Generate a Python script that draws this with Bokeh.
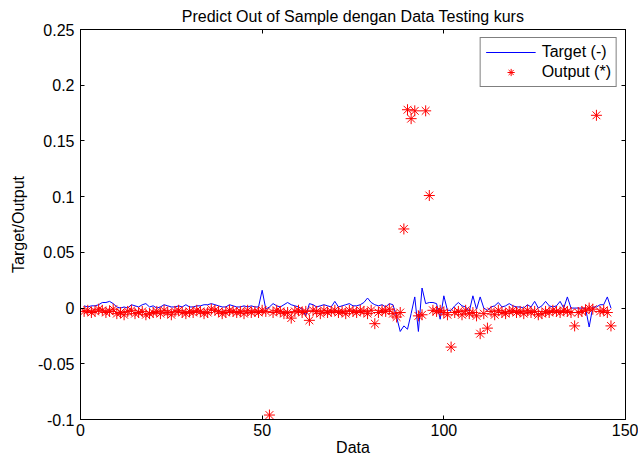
from bokeh.plotting import figure
from bokeh.models import Range1d, FixedTicker, LinearAxis, Legend, LegendItem, CustomLabelingPolicy
from bokeh.embed import file_html
from bokeh.resources import INLINE

target = [0.002, 0.001, 0.002, 0.002, 0.003, 0.005, 0.005, 0.006, 0.004, 0.001,
          0.000, 0.001, 0.000, 0.003, 0.002, 0.001, 0.003, 0.004, 0.001, 0.002,
          0.000, 0.001, 0.003, 0.002, 0.001, 0.001, 0.002, 0.001, 0.003, 0.001,
          0.001, 0.002, 0.002, 0.003, 0.003, 0.004, 0.003, 0.002, 0.001, 0.001,
          0.003, 0.002, 0.001, 0.001, 0.002, 0.001, 0.002, 0.001, 0.001, 0.016,
          -0.001, 0.001, 0.004, 0.002, 0.001, 0.003, 0.005, 0.003, 0.002, 0.001,
          -0.001, -0.007, 0.004, 0.003, 0.001, 0.002, 0.003, 0.002, 0.001, 0.006,
          0.001, 0.002, 0.003, 0.004, 0.002, 0.002, 0.003, 0.005, 0.009, 0.005,
          0.003, 0.002, 0.003, 0.001, 0.004, 0.003, -0.008, -0.021, -0.016, -0.019,
          -0.005, 0.010, -0.021, 0.018, 0.004, 0.005, 0.005, 0.004, -0.010, 0.011,
          -0.002, -0.002, 0.002, 0.005, 0.002, 0.001, -0.003, 0.011, -0.001, 0.010,
          0.000, -0.002, 0.001, 0.002, 0.005, 0.001, 0.002, 0.004, 0.002, 0.001,
          0.001, 0.000, 0.003, 0.001, 0.006, 0.000, 0.002, 0.006, 0.002, 0.001,
          0.002, 0.006, 0.000, 0.010, 0.000, 0.000, 0.000, 0.000, 0.000, -0.017,
          0.001, 0.001, 0.003, 0.003, 0.010, 0.000]

output = [-0.003, -0.002, -0.004, -0.003, -0.001, -0.002, -0.004, -0.003, -0.001, -0.005,
          -0.004, -0.006, -0.003, -0.002, -0.005, -0.004, -0.003, -0.006, -0.005, -0.004,
          -0.003, -0.005, -0.002, -0.004, -0.006, -0.003, -0.002, -0.004, -0.005, -0.003,
          -0.004, -0.002, -0.003, -0.005, -0.004, -0.001, -0.002, -0.003, -0.005, -0.004,
          -0.002, -0.003, -0.004, -0.003, -0.005, -0.002, -0.004, -0.003, -0.004, -0.002,
          -0.003, -0.096, -0.004, -0.002, -0.003, -0.005, -0.004, -0.009, -0.003, -0.002,
          -0.004, -0.003, -0.011, -0.002, -0.003, -0.005, -0.002, -0.004, -0.003, -0.002,
          -0.004, -0.003, -0.005, -0.002, -0.003, -0.004, -0.002, -0.003, -0.005, -0.002,
          -0.014, -0.004, -0.002, -0.003, -0.001, -0.005, -0.008, -0.004, 0.071, 0.178,
          0.170, 0.177, -0.007, -0.006, 0.177, 0.101, -0.002, -0.003, -0.002, -0.004,
          -0.006, -0.035, -0.004, -0.003, -0.006, -0.002, -0.005, -0.004, -0.007, -0.023,
          -0.005, -0.018, -0.003, -0.006, -0.002, -0.004, -0.005, -0.003, -0.002, -0.004,
          -0.003, -0.005, -0.002, -0.004, -0.003, -0.006, -0.005, -0.003, -0.004, -0.002,
          -0.003, -0.004, -0.002, -0.003, -0.004, -0.016, -0.004, -0.003, -0.002, 0.000,
          -0.001, 0.173, -0.003, -0.002, -0.004, -0.016]

xdata = list(range(1, len(target) + 1))

xticks = [0, 50, 100, 150]
yticks = [-0.1, -0.05, 0, 0.05, 0.1, 0.15, 0.2, 0.25]
ytick_labels = ["-0.1", "-0.05", "0", "0.05", "0.1", "0.15", "0.2", "0.25"]

FONT = "Liberation Sans"
FS = "16px"

p = figure(width=638, height=459, output_backend="svg", toolbar_location=None,
           x_range=Range1d(0, 150), y_range=Range1d(-0.1, 0.25),
           min_border_left=80, min_border_right=13, min_border_top=28, min_border_bottom=40,
           title="Predict Out of Sample dengan Data Testing kurs")
p.title.align = "center"
p.title.text_font = FONT
p.title.text_font_size = FS
p.title.text_font_style = "normal"
p.title.text_color = "black"
p.title.offset = 0

p.xgrid.visible = False
p.ygrid.visible = False
p.outline_line_color = "black"
p.outline_line_width = 1
p.background_fill_color = "white"
p.border_fill_color = "white"

def style_axis(ax, show_labels=True):
    ax.major_tick_in = 4
    ax.major_tick_out = 0
    ax.minor_tick_in = 0
    ax.minor_tick_out = 0
    ax.axis_line_color = "black"
    ax.major_tick_line_color = "black"
    ax.major_label_text_font = FONT
    ax.major_label_text_color = "black"
    ax.axis_label_text_font = FONT
    ax.axis_label_text_color = "black"
    ax.axis_label_text_font_style = "normal"
    ax.axis_label_text_font_size = FS
    if show_labels:
        ax.major_label_text_font_size = FS
    else:
        ax.major_label_text_font_size = "0px"
        ax.major_label_standoff = 0
        ax.major_label_policy = CustomLabelingPolicy(
            code="for (const i of Array.from(indices)) { indices.unset(i) }")

p.xaxis.ticker = FixedTicker(ticks=xticks)
p.yaxis.ticker = FixedTicker(ticks=yticks)
p.yaxis.major_label_overrides = {v: s for v, s in zip(yticks, ytick_labels)}
p.xaxis.axis_label = "Data"
p.yaxis.axis_label = "Target/Output"
style_axis(p.xaxis[0])
style_axis(p.yaxis[0])
p.xaxis.major_label_standoff = 4
p.yaxis.major_label_standoff = 6
p.xaxis.axis_label_standoff = 0
p.yaxis.axis_label_standoff = 8

top_ax = LinearAxis(ticker=FixedTicker(ticks=xticks))
style_axis(top_ax, show_labels=False)
p.add_layout(top_ax, "above")
right_ax = LinearAxis(ticker=FixedTicker(ticks=yticks))
style_axis(right_ax, show_labels=False)
p.add_layout(right_ax, "right")

r_line = p.line(xdata, target, line_color="#0000ff", line_width=1)
r_pts = p.scatter(xdata, output, marker="asterisk", size=11, line_color="#ff0000", line_width=1)

legend = Legend(items=[LegendItem(label="Target (-)", renderers=[r_line]),
                       LegendItem(label="Output (*)", renderers=[r_pts])],
                location="top_right")
legend.label_text_font = FONT
legend.label_text_font_size = FS
legend.label_text_color = "black"
legend.border_line_color = "black"
legend.border_line_width = 1
legend.glyph_width = 50
legend.glyph_height = 18
legend.label_standoff = 6
legend.padding = 5
legend.spacing = 2
legend.margin = 8
legend.label_height = 18
p.add_layout(legend)

open("out.html", "w").write(file_html(p, INLINE))
